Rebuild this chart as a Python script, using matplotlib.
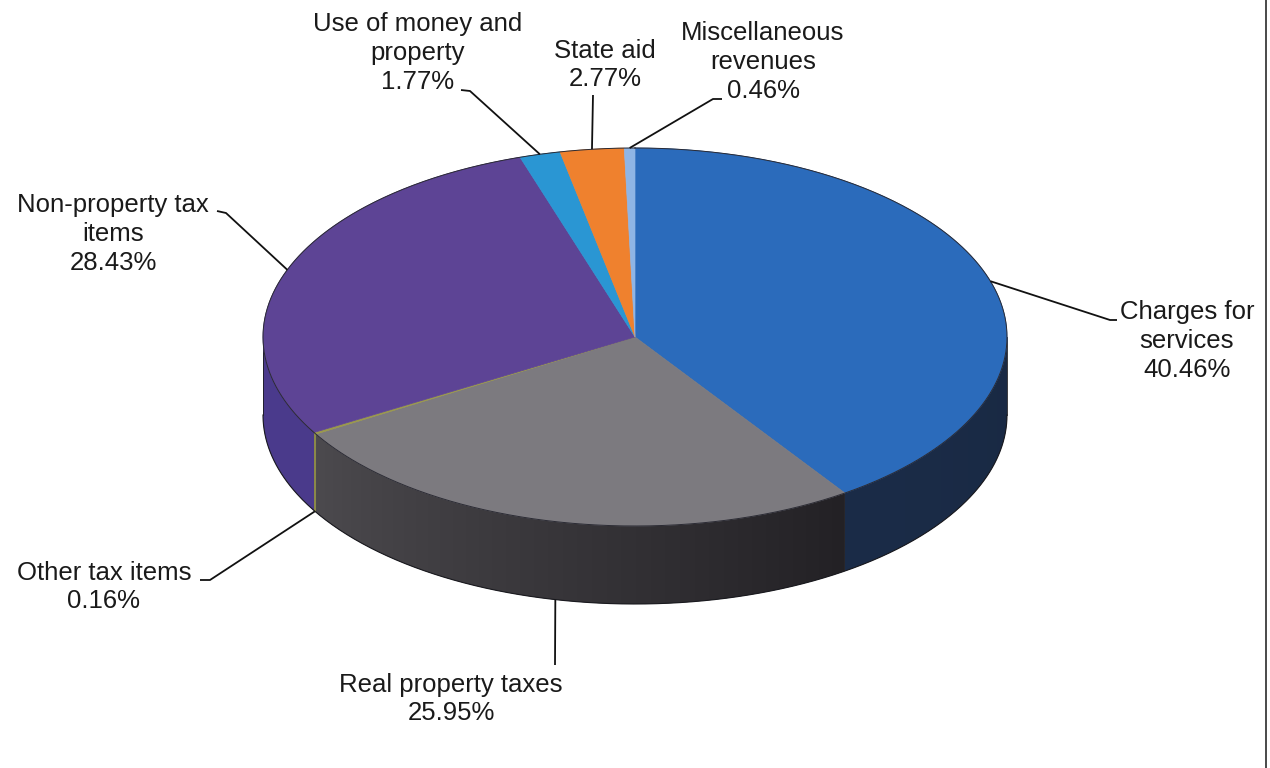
import numpy as np
import matplotlib
matplotlib.use("Agg")
import matplotlib.pyplot as plt
from matplotlib.patches import Polygon
from matplotlib.colors import to_rgb

# Revenue shares, clockwise from 12 o'clock
categories = ["Charges for services", "Real property taxes", "Other tax items",
              "Non-property tax items", "Use of money and property", "State aid",
              "Miscellaneous revenues"]
label_names = ["Charges for\nservices", "Real property taxes", "Other tax items",
               "Non-property tax\nitems", "Use of money and\nproperty", "State aid",
               "Miscellaneous\nrevenues"]
shares = [40.46, 25.95, 0.16, 28.43, 1.77, 2.77, 0.46]

top_colors = ["#2b6bbb", "#7c7a7f", "#9a984c", "#5d4495", "#2a96d3", "#ef812e", "#8fb5e5"]
# side wall colours at the clockwise start / end of each slice
side_colors = [("#16253c", "#1b2c48"), ("#232125", "#4c4a4e"), ("#8a8848", "#8a8848"),
               ("#4a3a8b", "#4f3e93"), ("#1f6e9c", "#1f6e9c"), ("#b05e22", "#b05e22"),
               ("#6a86a8", "#6a86a8")]

# label block centres and leader elbows (pixel layout)
label_xy = [(1187, 341), (451, 699), (104, 587), (113, 234), (418, 53), (605, 65), (763, 62)]
leader_elbows = [[(1110, 320), (1117, 320)], [(555, 665)], [(210, 580), (200, 580)],
                 [(226, 213), (217, 211)], [(470, 91), (461, 90)], [(593, 95)],
                 [(713, 99), (722, 99)]]

# pie geometry
cx, cy, rx, ry, depth = 635.0, 337.0, 372.0, 189.0, 78.0


def rim(theta_deg, drop=0.0):
    t = np.radians(theta_deg)
    return cx + rx * np.sin(t), cy - ry * np.cos(t) + drop


fig = plt.figure(figsize=(12.7, 7.68), dpi=100)
ax = fig.add_axes([0, 0, 1, 1])
ax.set_xlim(0, 1270)
ax.set_ylim(768, 0)
ax.axis("off")

fracs = np.array(shares) / np.sum(shares)
bounds = np.concatenate([[0.0], np.cumsum(fracs)]) * 360.0

# side walls (front half only: 90..270 degrees clockwise from top),
# each filled with a horizontal gradient clipped to the wall outline
for i in range(len(shares)):
    a, b = bounds[i], bounds[i + 1]
    lo, hi = max(a, 90.0), min(b, 270.0)
    if hi <= lo:
        continue
    ts = np.linspace(lo, hi, max(3, int((hi - lo) / 0.25) + 2))
    tx, ty = rim(ts)
    verts = list(zip(tx, ty)) + list(zip(tx[::-1], ty[::-1] + depth))
    c0 = np.array(to_rgb(side_colors[i][0]))
    c1 = np.array(to_rgb(side_colors[i][1]))
    wall = Polygon(verts, closed=True, facecolor=tuple((c0 + c1) / 2),
                   edgecolor="none", zorder=1)
    ax.add_patch(wall)
    # x runs right-to-left as the angle grows on the front half
    x_left, x_right = tx.min(), tx.max()
    cols = 256
    xs = np.linspace(x_left, x_right, cols)
    ang = np.degrees(np.arcsin(np.clip((xs - cx) / rx, -1, 1)))
    ang = 180.0 - ang
    f = np.clip((ang - a) / (b - a), 0, 1)
    grad = (c0[None, :] + (c1 - c0)[None, :] * f[:, None])[None, :, :]
    im = ax.imshow(grad, extent=(x_left, x_right, ty.max() + depth + 1, ty.min() - 1),
                   aspect="auto", interpolation="bilinear", zorder=1.5)
    im.set_clip_path(wall)

# silhouette of the wall
tt = np.linspace(90, 270, 400)
bx, by = rim(tt, depth)
ax.plot(bx, by, color="#1a1a1f", lw=0.8, zorder=2)
for t in (90, 270):
    x, y = rim(t)
    ax.plot([x, x], [y, y + depth], color="#1a1a1f", lw=0.6, zorder=2)

# top faces
for i in range(len(shares)):
    a, b = bounds[i], bounds[i + 1]
    n = max(3, int((b - a) / 0.5) + 2)
    ts = np.linspace(a, b, n)
    xs, ys = rim(ts)
    verts = [(cx, cy)] + list(zip(xs, ys))
    ax.add_patch(Polygon(verts, closed=True, facecolor=top_colors[i],
                         edgecolor=top_colors[i], lw=0.5, zorder=3))

# rim outline of the top face
tt = np.linspace(0, 360, 720)
ox, oy = rim(tt)
ax.plot(ox, oy, color="#2a2a33", lw=0.7, zorder=4)

# labels and leader lines
for i in range(len(shares)):
    mid = (bounds[i] + bounds[i + 1]) / 2
    front = 90.0 < mid < 270.0
    ax_, ay_ = rim(mid, depth if front else 0.0)
    pts = [(ax_, ay_)] + leader_elbows[i]
    px, py = zip(*pts)
    ax.plot(px, py, color="#111111", lw=1.3, zorder=5, solid_capstyle="butt")
    lx, ly = label_xy[i]
    ax.text(lx, ly, f"{label_names[i]}\n{shares[i]:.2f}%", ha="center", va="center",
            fontsize=18.5, family="Liberation Sans", color="#1a1a1a",
            linespacing=1.24, zorder=6)

# frame edge at the right
ax.plot([1266, 1266], [0, 768], color="#3a3a3a", lw=1.3, zorder=6)

fig.savefig("out.png", dpi=100, facecolor="white")
